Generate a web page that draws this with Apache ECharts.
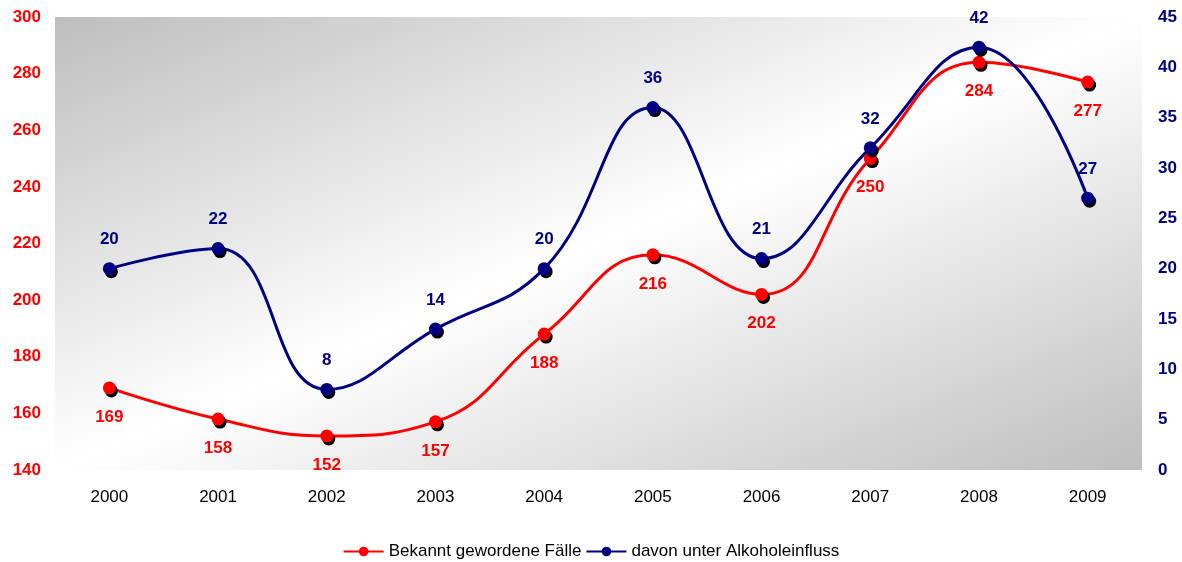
<!DOCTYPE html>
<html><head><meta charset="utf-8">
<script src="https://cdn.jsdelivr.net/npm/echarts@6/dist/echarts.min.js"></script>
<style>html,body{margin:0;padding:0;background:#fff}#c{width:1182px;height:562px}</style>
</head><body><div id="c"></div>
<script>
const categories = ['2000','2001','2002','2003','2004','2005','2006','2007','2008','2009'];
const bekannt = [169,158,152,157,188,216,202,250,284,277];
const alkohol = [20,22,8,14,20,36,21,32,42,27];
const leftTicks = [140,300,20];
const rightTicks = [0,45,5];
const FONT = '"Liberation Sans", Arial, sans-serif';
const chart = echarts.init(document.getElementById('c'));
const symShadow = {shadowColor:'#000', shadowBlur:0, shadowOffsetX:2, shadowOffsetY:3};
// plot rect: x 55..1142, y 17..470 ; gradient perpendicular to the anti-diagonal
const gx0 = 437.7, gy0 = -142.4, gx1 = 759.3, gy1 = 629.4;
chart.setOption({
  animation:false,
  grid:{left:55,right:40,top:17,bottom:92,show:true,borderWidth:0,
    backgroundColor:new echarts.graphic.LinearGradient(gx0,gy0,gx1,gy1,[
      {offset:0,color:'#bebebe'},{offset:0.5,color:'#ffffff'},{offset:1,color:'#bebebe'}],true)},
  legend:{top:538,left:'center',itemWidth:40,itemHeight:12,itemGap:4,
    textStyle:{fontFamily:FONT,fontSize:17,color:'#000'},
    data:['Bekannt gewordene Fälle','davon unter Alkoholeinfluss']},
  xAxis:{type:'category',data:categories,boundaryGap:true,
    axisLine:{show:false},axisTick:{show:false},
    axisLabel:{fontFamily:FONT,fontSize:17,color:'#000',margin:19}},
  yAxis:[
    {type:'value',min:leftTicks[0],max:leftTicks[1],interval:leftTicks[2],
      splitLine:{show:false},axisLine:{show:false},axisTick:{show:false},
      axisLabel:{fontFamily:FONT,fontSize:17,fontWeight:'bold',color:'#ff0000',margin:14}},
    {type:'value',min:rightTicks[0],max:rightTicks[1],interval:rightTicks[2],
      splitLine:{show:false},axisLine:{show:false},axisTick:{show:false},
      axisLabel:{fontFamily:FONT,fontSize:17,fontWeight:'bold',color:'#000080',margin:16}}
  ],
  series:[
    {name:'Bekannt gewordene Fälle',type:'line',yAxisIndex:0,data:bekannt,smooth:0.45,
      symbol:'circle',symbolSize:13,
      lineStyle:{color:'#ff0000',width:3},
      itemStyle:Object.assign({color:'#ff0000'},symShadow),
      label:{show:true,position:'bottom',distance:14,fontFamily:FONT,fontSize:17,fontWeight:'bold',color:'#ff0000'}},
    {name:'davon unter Alkoholeinfluss',type:'line',yAxisIndex:1,data:alkohol,smooth:0.45,
      symbol:'circle',symbolSize:13,
      lineStyle:{color:'#000080',width:3},
      itemStyle:Object.assign({color:'#000080'},symShadow),
      label:{show:true,position:'top',distance:14,fontFamily:FONT,fontSize:17,fontWeight:'bold',color:'#000080'}}
  ]
});
</script></body></html>
